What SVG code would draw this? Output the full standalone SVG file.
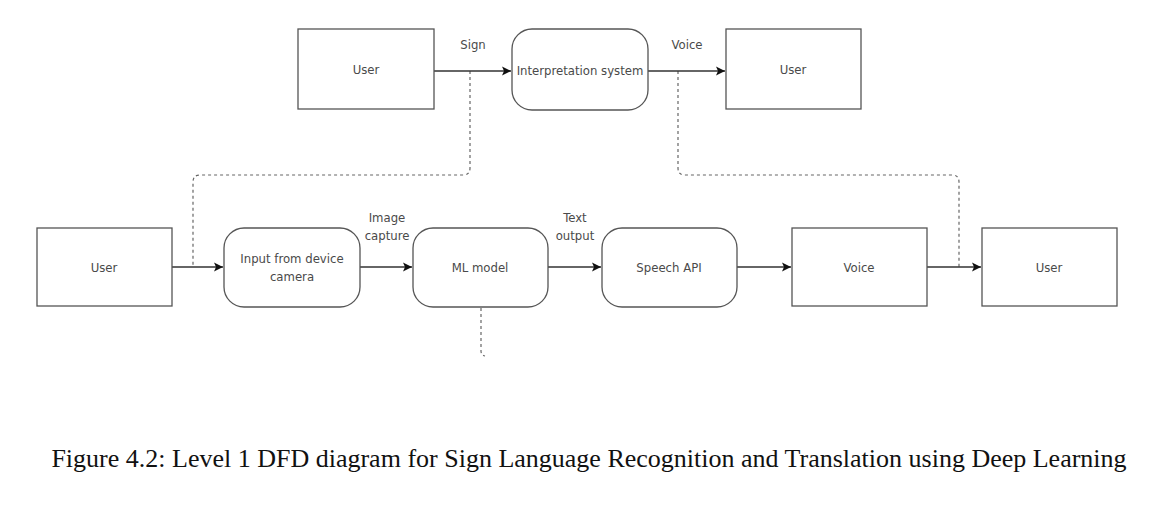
<svg xmlns="http://www.w3.org/2000/svg" width="1166" height="513" viewBox="0 0 1166 513">
<style>
.box{fill:#fff;stroke:#555;stroke-width:1.3}
.t{font-family:"Liberation Sans Narrow","DejaVu Sans Condensed","Liberation Sans",sans-serif;font-size:13px;fill:#4a4a4a;text-anchor:middle;dominant-baseline:central}
.flow{fill:none;stroke:#333;stroke-width:1.5}
.dash{fill:none;stroke:#666;stroke-width:1.2;stroke-dasharray:3 3}
.cap{font-family:"Liberation Serif","Times New Roman",serif;font-size:26px;fill:#111;text-anchor:middle}
</style>
<defs>
<marker id="ah" markerWidth="10" markerHeight="10" refX="9" refY="5" orient="auto" markerUnits="userSpaceOnUse">
<path d="M0,0.5 L9,5 L0,9.5 L2,5 Z" fill="#111"/>
</marker>
</defs>
<rect width="1166" height="513" fill="#fff"/>
<g id="connectors">
<path class="dash" d="M470,71 V168 Q470,175 463,175 H200 Q193,175 193,182 V267"/>
<path class="dash" d="M678,71 V168 Q678,175 685,175 H952 Q959,175 959,182 V267"/>
<path class="dash" d="M481,308 V351 Q481,355 485,356"/>
<line class="flow" x1="434" y1="71" x2="511" y2="71" marker-end="url(#ah)"/>
<line class="flow" x1="648" y1="71" x2="725" y2="71" marker-end="url(#ah)"/>
<line class="flow" x1="172" y1="267" x2="223" y2="267" marker-end="url(#ah)"/>
<line class="flow" x1="360" y1="267" x2="412" y2="267" marker-end="url(#ah)"/>
<line class="flow" x1="548" y1="267" x2="601" y2="267" marker-end="url(#ah)"/>
<line class="flow" x1="737" y1="267" x2="791" y2="267" marker-end="url(#ah)"/>
<line class="flow" x1="927" y1="267" x2="981" y2="267" marker-end="url(#ah)"/>
<text class="t" x="473" y="44">Sign</text>
<text class="t" x="687" y="44">Voice</text>
<text class="t" x="387" y="217">Image</text>
<text class="t" x="387" y="235">capture</text>
<text class="t" x="575" y="217">Text</text>
<text class="t" x="575" y="235">output</text>
</g>
<g id="user-top-left"><rect class="box" x="298" y="29" width="136" height="80"/><text class="t" x="366" y="69">User</text></g>
<g id="interpretation"><rect class="box" x="512" y="29" width="136" height="81" rx="20"/><text class="t" x="580" y="70">Interpretation system</text></g>
<g id="user-top-right"><rect class="box" x="726" y="29" width="135" height="80"/><text class="t" x="793" y="69">User</text></g>
<g id="user-left"><rect class="box" x="37" y="228" width="135" height="78"/><text class="t" x="104" y="267">User</text></g>
<g id="input-camera"><rect class="box" x="224" y="228" width="136" height="79" rx="20"/><text class="t" x="292" y="258">Input from device</text><text class="t" x="292" y="276">camera</text></g>
<g id="ml-model"><rect class="box" x="413" y="228" width="135" height="79" rx="20"/><text class="t" x="480" y="267">ML model</text></g>
<g id="speech-api"><rect class="box" x="602" y="228" width="135" height="79" rx="20"/><text class="t" x="669" y="267">Speech API</text></g>
<g id="voice"><rect class="box" x="792" y="228" width="135" height="78"/><text class="t" x="859" y="267">Voice</text></g>
<g id="user-right"><rect class="box" x="982" y="228" width="135" height="78"/><text class="t" x="1049" y="267">User</text></g>
<text class="cap" x="589" y="467">Figure 4.2: Level 1 DFD diagram for Sign Language Recognition and Translation using Deep Learning</text>
</svg>
